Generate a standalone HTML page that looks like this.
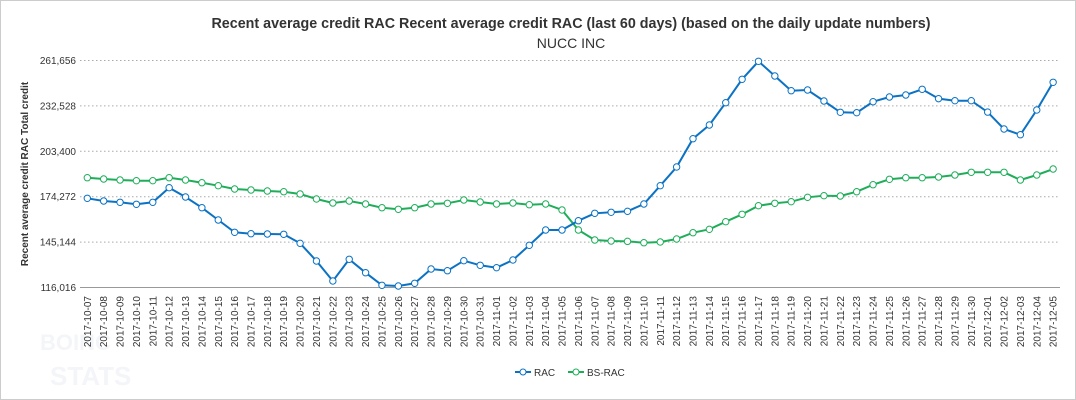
<!DOCTYPE html>
<html><head><meta charset="utf-8"><style>
body{margin:0;background:#fff;font-family:"Liberation Sans",Arial,sans-serif}
svg{display:block}
</style></head><body>
<svg id="c" width="1076" height="400">
<rect x="0.5" y="0.5" width="1075" height="399" fill="#fff" stroke="#ccc"/>
<text x="571" y="28" text-anchor="middle" font-size="14.3" font-weight="bold" fill="#333">Recent average credit RAC Recent average credit RAC (last 60 days) (based on the daily update numbers)</text>
<text x="571" y="48" text-anchor="middle" font-size="14" fill="#333">NUCC INC</text>
<text transform="translate(28,174) rotate(-90)" text-anchor="middle" font-size="10" font-weight="bold" fill="#333">Recent average credit RAC Total credit</text>
<text x="40" y="350" font-size="22" font-weight="bold" fill="#f3f5f8">BOINC</text>
<text x="50" y="385" font-size="26" font-weight="bold" fill="#f3f5f8">STATS</text>
<g id="grid"></g><g id="xl"></g><g id="series"></g>
<g>
<g><line x1="515" y1="372" x2="531" y2="372" stroke="#0b72c4" stroke-width="2"/><circle cx="523" cy="372" r="3" fill="#fff" stroke="#0b72c4"/><text x="534" y="376" font-size="10" fill="#333">RAC</text></g>
<g><line x1="568" y1="372" x2="584" y2="372" stroke="#1fad5a" stroke-width="2"/><circle cx="576" cy="372" r="3" fill="#fff" stroke="#1fad5a"/><text x="587" y="376" font-size="10" fill="#333">BS-RAC</text></g>
</g>
</svg>
<script>
const yTicks=[116016,145144,174272,203400,232528,261656];
const rac=[173245,171510,170680,169400,170680,180050,174080,167215,159320,151430,150530,150340,150150,144370,133020,120190,134110,125510,117430,116980,118710,127890,126790,133210,130270,128730,133660,143090,152900,152900,158870,163620,164260,164900,169590,181330,193330,211480,220270,234580,249600,261150,251710,242280,242730,235670,228420,228170,235220,238240,239520,243180,237180,235870,235870,228560,217710,214050,229900,247670];
const bsrac=[186460,185630,184990,184540,184540,186460,184990,183250,181330,179210,178570,177930,177480,176020,172800,170230,171510,169590,167210,166190,167210,169590,170040,172150,170870,169590,170230,169140,169590,165740,152900,146490,145850,145640,144760,145200,147130,151170,153350,158230,162980,168500,170040,171070,173880,174920,174720,177480,181970,185440,186460,186460,186910,188200,189930,189930,189930,184990,188200,192040];
const dates=[];
(function(){let d=new Date(Date.UTC(2017,9,7));for(let i=0;i<60;i++){dates.push(d.toISOString().slice(0,10));d=new Date(d.getTime()+86400000);}})();
const NS="http://www.w3.org/2000/svg";
const X=i=>87.3+i*16.37;
const Y=v=>151.3-(v-203400)/641.6;
function mk(t,a,p){const e=document.createElementNS(NS,t);for(const k in a)e.setAttribute(k,a[k]);p.appendChild(e);return e;}
const grid=document.getElementById('grid');
yTicks.forEach((v,i)=>{
 const g=mk('g',{},grid);
 
 
 mk('line',{x1:80,x2:1060,y1:Y(v),y2:Y(v),stroke:i==0?'#999':'#aaa','stroke-dasharray':i==0?'':'1.5,2.5','stroke-width':1},g);
 const t=mk('text',{x:76,y:Y(v)+3.5,'text-anchor':'end','font-size':10,fill:'#333'},g);
 t.textContent=v.toLocaleString('en-US');
});
const xl=document.getElementById('xl');
dates.forEach((d,i)=>{
 const t=mk('text',{transform:`translate(${X(i)+3.5},296) rotate(-90)`,'text-anchor':'end','font-size':10,fill:'#333'},xl);
 
 
 t.textContent=d;
});
const S=document.getElementById('series');
[[bsrac,'#1fad5a','bs-rac'],[rac,'#0b72c4','rac']].forEach(([arr,col,nm])=>{
 const g=mk('g',{},S);
 
 
 const p=mk('path',{d:arr.map((v,i)=>(i?'L':'M')+X(i)+','+Y(v)).join(''),fill:'none',stroke:col,'stroke-width':2},g);
 
 
 arr.forEach((v,i)=>{
  const c=mk('circle',{cx:X(i),cy:Y(v),r:3.2,fill:'#fff',stroke:col,'stroke-width':1},g);
  
  
 });
});
</script>
</body></html>
